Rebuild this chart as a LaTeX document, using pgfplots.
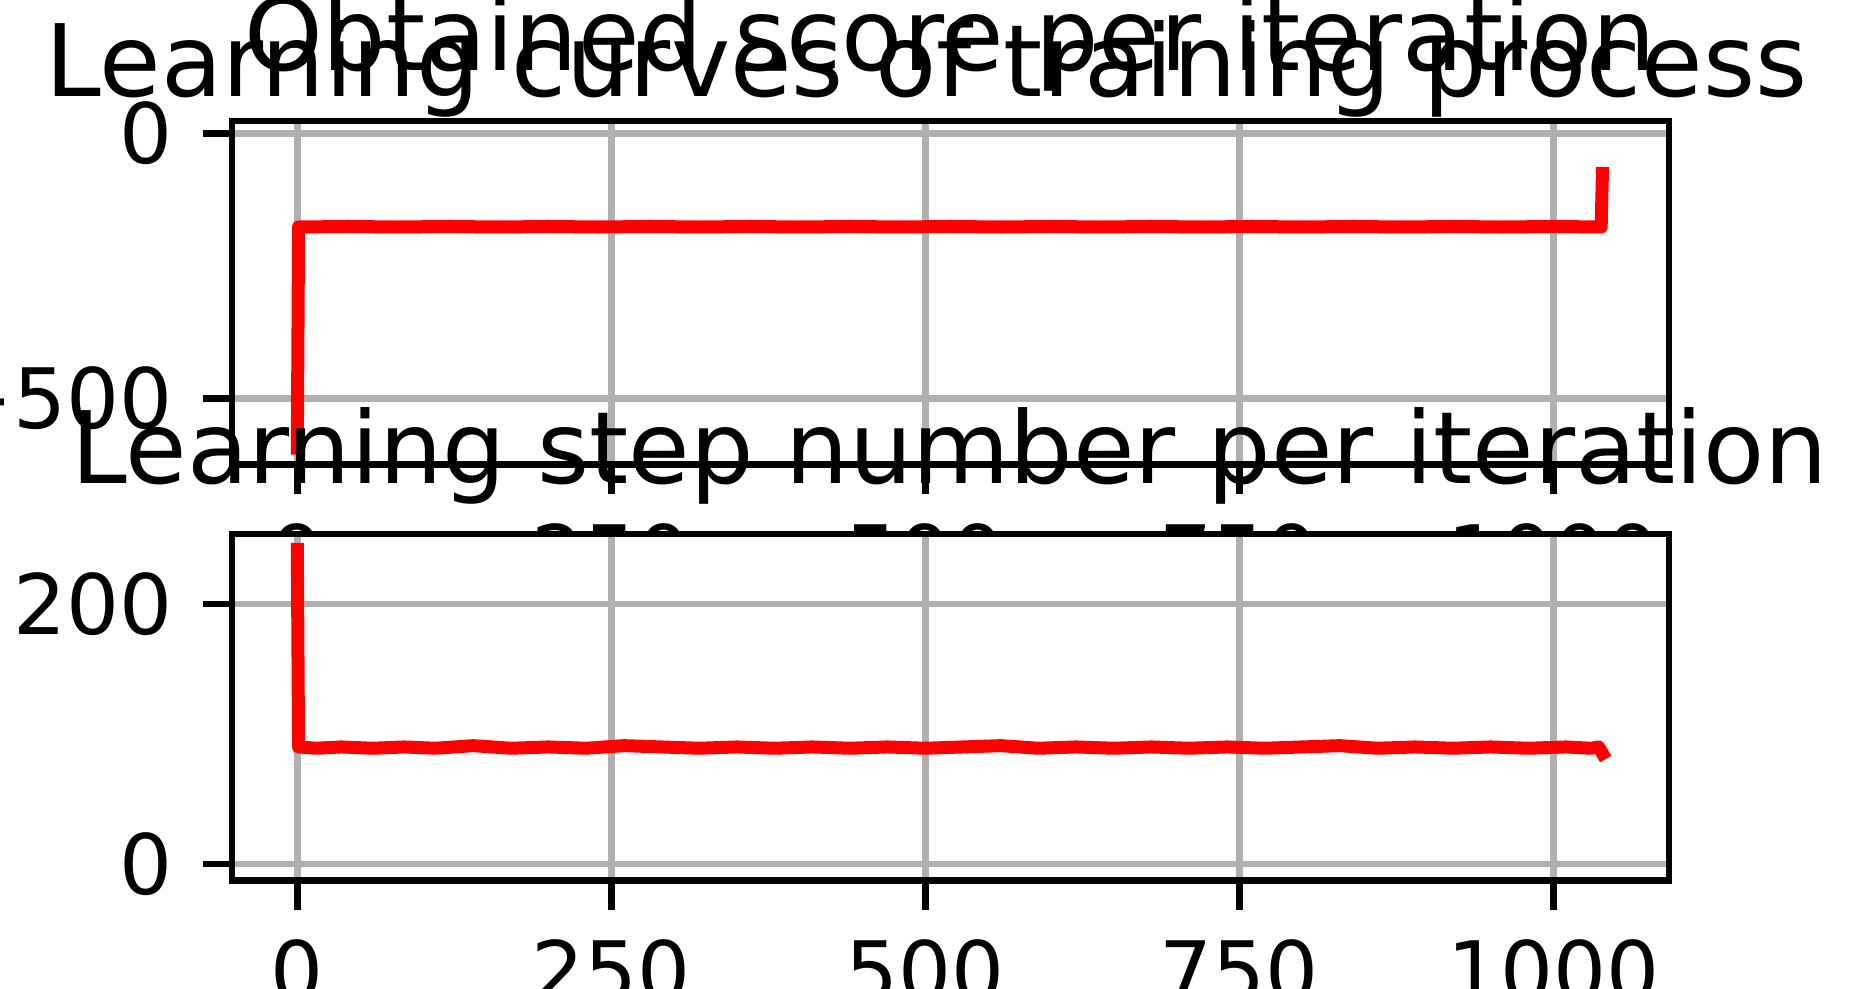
\documentclass[border=0pt]{standalone}
\usepackage{pgfplots}
\pgfplotsset{compat=1.18}
\usepackage{fontspec}
\setmainfont{DejaVu Sans}
\definecolor{gridgray}{HTML}{B0B0B0}
\definecolor{mplred}{HTML}{FF0000}
\begin{document}
\begin{tikzpicture}
\useasboundingbox (0pt,0pt) rectangle (370.6pt,197.8pt);
\clip (0pt,0pt) rectangle (370.6pt,197.8pt);
\pgfplotsset{
  myax/.style={
    scale only axis, width=287.4pt,
    xmin=-52, xmax=1092,
    xtick={0,250,500,750,1000},
    grid=major, major grid style={gridgray, line width=1.33pt},
    axis line style={line width=1.33pt},
    every tick/.style={black, line width=1.33pt},
    major tick length=5.83pt, tick align=outside,
    xtick pos=bottom, ytick pos=left,
    tick label style={font=\fontsize{16.67}{16.67}\selectfont, inner sep=0pt},
    xticklabel style={yshift=-5.83pt},
    yticklabel style={xshift=-5.83pt},
    /pgf/number format/assume math mode=true,
    /pgf/number format/1000 sep={},
    axis background/.style={fill=white},
    anchor=south west,
  },
  redline/.style={mplred, line width=2.6pt, line cap=rect, line join=round, no markers},
}
% top axis
\begin{axis}[myax, at={(46.4pt,104.9pt)}, height=68.7pt,
  ymin=-625, ymax=23, ytick={-500,0}, yticklabels={−500,0}]
\addplot[redline] coordinates {
(0,-594) (1,-177) (40,-176) (80,-177) (120,-176) (160,-177) (200,-176) (240,-177)
(280,-176) (320,-177) (360,-176) (400,-177) (440,-176) (480,-177) (520,-176)
(560,-177) (600,-176) (640,-177) (680,-176) (720,-177) (760,-176) (800,-177)
(840,-176) (880,-177) (920,-176) (960,-177) (1000,-176) (1038,-177) (1039,-76)
};
\end{axis}
\node[anchor=base, font=\fontsize{20}{20}\selectfont, inner sep=0pt] at (190pt,183.6pt) {Obtained score per iteration};
% bottom axis
\begin{axis}[myax, at={(46.4pt,21.7pt)}, height=69.3pt,
  ymin=-12.7, ymax=253.8, ytick={0,200}]
\addplot[redline] coordinates {
(0,242) (1,90) (15,89) (35,90) (60,89) (85,90) (110,89) (140,91) (170,89) (200,90)
(230,89) (260,91) (290,90) (320,89) (350,90) (380,89) (410,90) (440,89) (470,90)
(500,89) (530,90) (560,91) (590,89) (620,90) (650,89) (680,90) (710,89) (740,90)
(770,89) (800,90) (830,91) (860,89) (890,90) (920,89) (950,90) (980,89) (1010,90)
(1030,89) (1036,90) (1039,85)
};
\end{axis}
\node[anchor=base, font=\fontsize{20}{20}\selectfont, inner sep=0pt] at (190pt,101.0pt) {Learning step number per iteration};
\node[anchor=base, font=\fontsize{20}{20}\selectfont, inner sep=0pt] at (185.3pt,178.4pt) {Learning curves of training process};
\end{tikzpicture}
\end{document}
